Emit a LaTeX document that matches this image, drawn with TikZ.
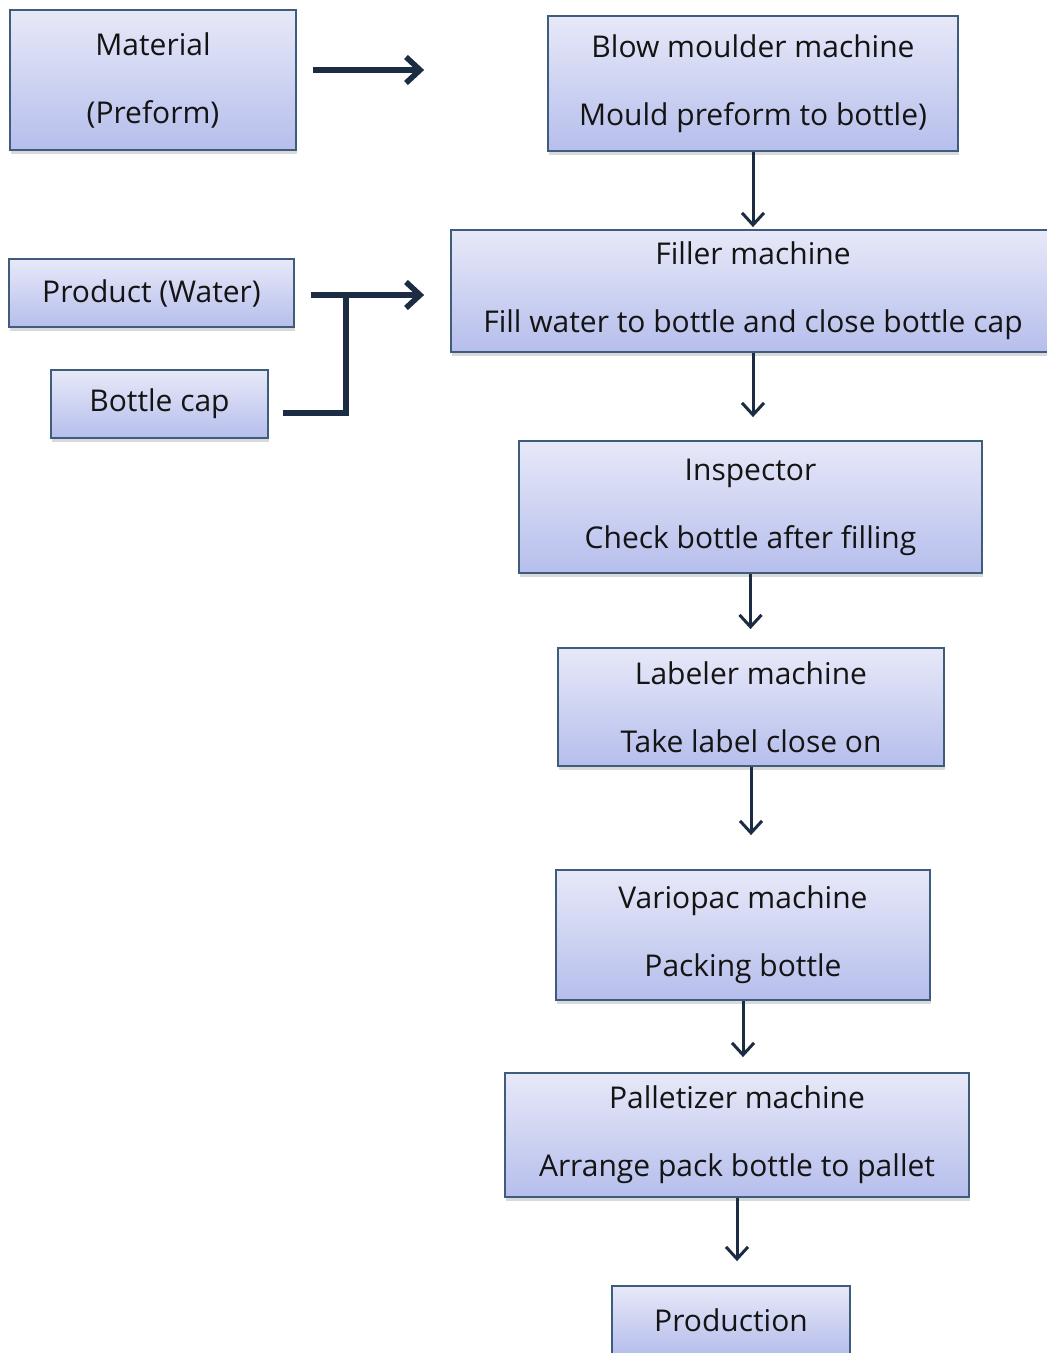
\documentclass[tikz,border=0pt]{standalone}
\usepackage{fontspec}
\setmainfont{Open Sans}
\usetikzlibrary{shapes,arrows.meta,shadows}

\definecolor{boxtop}{RGB}{231,233,248}
\definecolor{boxbottom}{RGB}{182,190,236}
\definecolor{boxline}{RGB}{62,92,124}
\definecolor{arrowcol}{RGB}{28,44,66}

\begin{document}
\begin{tikzpicture}[x=0.5pt, y=-0.5pt, auto, node distance=100pt,
    >={Straight Barb[length=6pt,width=11pt]},
    block/.style={draw=boxline, line width=0.9pt, rectangle, top color=boxtop, bottom color=boxbottom,
      drop shadow={shadow xshift=0.5pt, shadow yshift=-2pt, opacity=0.3},
      font=\fontsize{15pt}{34pt}\selectfont, align=center, text=black!92, inner sep=1pt},
    link/.style={->, draw=arrowcol, line width=1.5pt},
    biglink/.style={->, draw=arrowcol, line width=2.8pt, >={Straight Barb[length=7pt,width=13pt]}}]

  \useasboundingbox (0,0) rectangle (1047,1353);

  % Intrari
  \node [block, minimum width=143pt, minimum height=70pt] (material) at (153,80) {Material\\(Preform)};
  \node [block, minimum width=142.5pt, minimum height=34pt] (product) at (151.5,293) {Product (Water)};
  \node [block, below of=product, node distance=55.5pt, xshift=4pt, minimum width=108.5pt, minimum height=34pt] (cap) {Bottle cap};

  % Linia de productie
  \node [block, minimum width=205pt, minimum height=67.5pt] (blow) at (753,83.5) {Blow moulder machine\\Mould preform to bottle)};
  \node [block, below of=blow, node distance=103.75pt, minimum width=302pt, minimum height=61pt] (filler) {Filler machine\\Fill water to bottle and close bottle cap};
  \node [block, below of=filler, node distance=108pt, xshift=-1.25pt, minimum width=231.5pt, minimum height=66pt] (inspector) {Inspector\\Check bottle after filling};
  \node [block, below of=inspector, node distance=100pt, xshift=0.25pt, minimum width=193pt, minimum height=59pt] (labeler) {Labeler machine\\Take label close on};
  \node [block, below of=labeler, node distance=114pt, xshift=-4pt, minimum width=187pt, minimum height=65pt] (variopac) {Variopac machine\\Packing bottle};
  \node [block, below of=variopac, node distance=100pt, xshift=-3pt, minimum width=232pt, minimum height=62pt] (palletizer) {Palletizer machine\\Arrange pack bottle to pallet};
  \node [block, below of=palletizer, node distance=92.5pt, xshift=-3pt, minimum width=119pt, minimum height=34pt] (production) {Production};

  % Legaturi
  \draw [biglink, shorten <=8pt, shorten >=61.5pt] ([yshift=5pt]material.east) -- ([yshift=5pt]material.east -| blow.west);
  \draw [biglink, shorten <=8pt, shorten >=13pt] ([yshift=-1pt]product.east) -- ([yshift=-1pt]product.east -| filler.west);
  \draw [draw=arrowcol, line width=2.8pt, shorten <=7pt] ([yshift=-4.5pt]cap.east) -| ([xshift=25.5pt,yshift=-1pt]product.east);
  \draw [link, shorten >=1pt] (blow) -- (filler);
  \draw [link, shorten >=11.5pt] (filler) -- (filler |- inspector.north);
  \draw [link, shorten >=9pt] (inspector) -- (inspector |- labeler.north);
  \draw [link, shorten >=17pt] (labeler) -- (labeler |- variopac.north);
  \draw [link, shorten >=7.5pt] (variopac) -- (variopac |- palletizer.north);
  \draw [link, shorten >=12pt] (palletizer) -- (palletizer |- production.north);

\end{tikzpicture}
\end{document}
